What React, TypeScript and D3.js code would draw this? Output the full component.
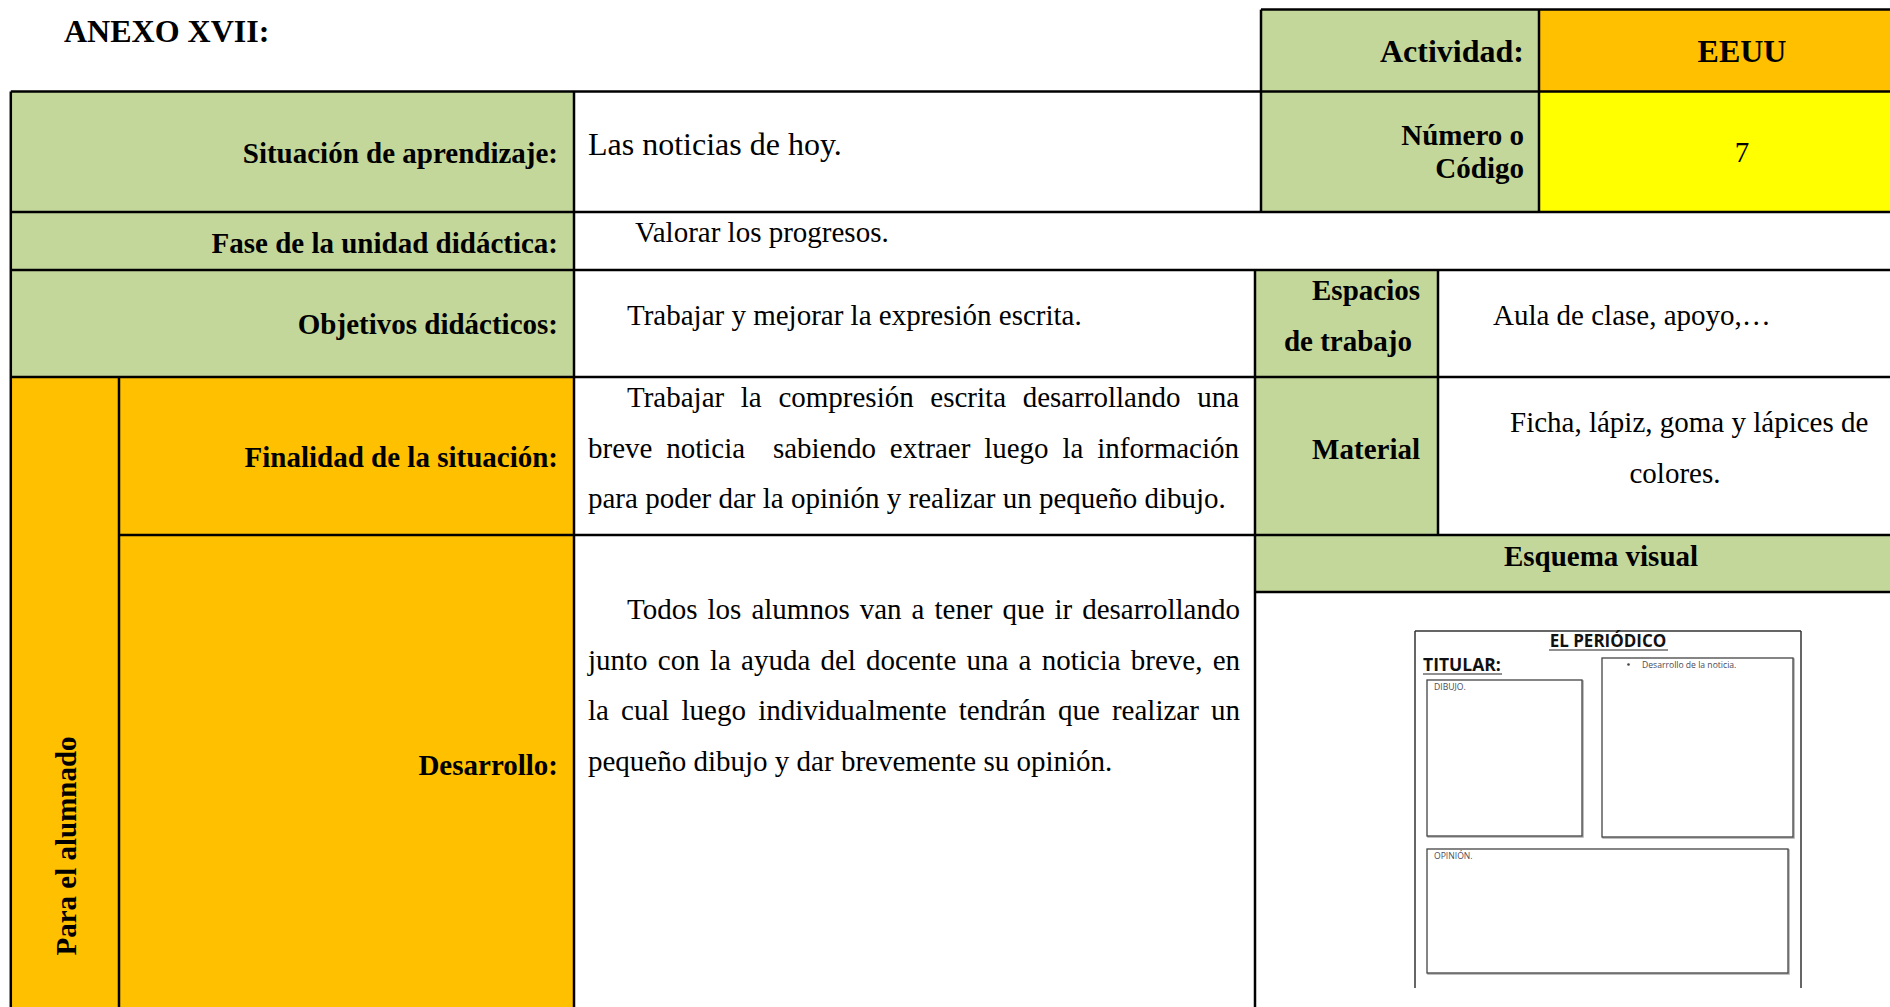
import React from "react";
import * as d3 from "d3";

const W = 1890;
const H = 1007;

// ---- data ----
const title = "ANEXO XVII:";
const headerLabels = ["Actividad:", "Número o", "Código"];
const headerValues = ["EEUU", "7"];
const rowLabels = [
  "Situación de aprendizaje:",
  "Fase de la unidad didáctica:",
  "Objetivos didácticos:",
  "Finalidad de la situación:",
  "Desarrollo:",
];
const rowValues = [
  "Las noticias de hoy.",
  "Valorar los progresos.",
  "Trabajar y mejorar la expresión escrita.",
];
const sideLabel = "Para el alumnado";
const espaciosLabel = ["Espacios", "de trabajo"];
const espaciosValue = "Aula de clase, apoyo,…";
const materialLabel = "Material";
const materialValue = ["Ficha, lápiz, goma y lápices de", "colores."];
const esquemaLabel = "Esquema visual";
const finalidadLines = [
  "Trabajar la compresión escrita desarrollando una",
  "breve noticia  sabiendo extraer luego la información",
  "para poder dar la opinión y realizar un pequeño dibujo.",
];
const desarrolloLines = [
  "Todos los alumnos van a tener que ir desarrollando",
  "junto con la ayuda del docente una a noticia breve, en",
  "la cual luego individualmente tendrán que realizar un",
  "pequeño dibujo y dar brevemente su opinión.",
];
const sheetTexts = ["EL PERIÓDICO", "TITULAR:", "DIBUJO.", "Desarrollo de la noticia.", "OPINIÓN."];

// ---- style ----
const GREEN = "#C4D79B";
const ORANGE = "#FFC000";
const YELLOW = "#FFFF00";
const SERIF = "'Liberation Serif', 'Times New Roman', serif";
const SANS = "'Open Sans', 'Liberation Sans', sans-serif";
const FS = 29;

let ctx: CanvasRenderingContext2D | null = null;
function measure(t: string, size: number, bold = false) {
  if (!ctx) ctx = document.createElement("canvas").getContext("2d");
  if (!ctx) return t.length * size * 0.45;
  ctx.font = `${bold ? "bold " : ""}${size}px 'Liberation Serif'`;
  return ctx.measureText(t).width;
}

function JLine({ text, x0, x1, y, justify }: { text: string; x0: number; x1: number; y: number; justify: boolean }) {
  if (!justify) {
    return (
      <text x={x0} y={y} fontFamily={SERIF} fontSize={FS} fill="#000">
        {text}
      </text>
    );
  }
  const tokens = text.split(" ");
  const sw = measure(" ", FS);
  const widths = tokens.map((t) => measure(t, FS));
  const natural = d3.sum(widths) + sw * (tokens.length - 1);
  const extra = (x1 - x0 - natural) / (tokens.length - 1);
  let x = x0;
  const items: { t: string; x: number }[] = [];
  tokens.forEach((t, i) => {
    items.push({ t, x });
    x += widths[i] + sw + extra;
  });
  return (
    <g>
      {items.filter((d) => d.t).map((d, i) => (
        <text key={i} x={d.x} y={y} fontFamily={SERIF} fontSize={FS} fill="#000">
          {d.t}
        </text>
      ))}
    </g>
  );
}

export default function App() {
  // grid coordinates
  const xL = 10.8, xC1 = 119, xLab = 574, xMid = 1255, xHead = 1261, xHeadDiv = 1539, xEsp = 1438, xR = W + 5;
  const yT = 9.6, y1 = 91.6, y2 = 212, y3 = 270, y4 = 377, y5 = 535, y6 = 592, yB = H + 5;
  const labEnd = 558;

  const fills = [
    { x: xHead, y: yT, w: xHeadDiv - xHead, h: y1 - yT, c: GREEN },
    { x: xHeadDiv, y: yT, w: xR - xHeadDiv, h: y1 - yT, c: ORANGE },
    { x: xHead, y: y1, w: xHeadDiv - xHead, h: y2 - y1, c: GREEN },
    { x: xHeadDiv, y: y1, w: xR - xHeadDiv, h: y2 - y1, c: YELLOW },
    { x: xL, y: y1, w: xLab - xL, h: y4 - y1, c: GREEN },
    { x: xMid, y: y3, w: xEsp - xMid, h: y5 - y3, c: GREEN },
    { x: xMid, y: y5, w: xR - xMid, h: y6 - y5, c: GREEN },
    { x: xL, y: y4, w: xLab - xL, h: yB - y4, c: ORANGE },
  ];
  const hLines: [number, number, number][] = [
    [yT, xHead, xR],
    [y1, xL, xR],
    [y2, xL, xR],
    [y3, xL, xR],
    [y4, xL, xR],
    [y5, xC1, xR],
    [y6, xMid, xR],
  ];
  const vLines: [number, number, number][] = [
    [xL, y1, yB],
    [xC1, y4, yB],
    [xLab, y1, yB],
    [xHead, yT, y2],
    [xHeadDiv, yT, y2],
    [xMid, y3, yB],
    [xEsp, y3, y5],
  ];

  const bold = { fontFamily: SERIF, fontSize: FS, fontWeight: 700, fill: "#000" } as const;
  const reg = { fontFamily: SERIF, fontSize: FS, fill: "#000" } as const;

  // sheet
  const sL = 1415, sR = 1801, sT = 631, sB = 988;
  const boxes = [
    { x: 1427, y: 680, w: 155, h: 156 },
    { x: 1602, y: 658, w: 191, h: 179 },
    { x: 1427, y: 849, w: 361, h: 124 },
  ];
  const small = { fontFamily: SANS, fontSize: 8.6, fill: "#4a4a58" } as const;

  return (
    <svg width={W} height={H} style={{ position: "absolute", left: 0, top: 0, background: "#fff" }}>
      <rect x={0} y={0} width={W} height={H} fill="#fff" />
      {fills.map((f, i) => (
        <rect key={i} x={f.x} y={f.y} width={f.w} height={f.h} fill={f.c} />
      ))}
      {hLines.map(([y, a, b], i) => (
        <line key={"h" + i} x1={a} x2={b} y1={y} y2={y} stroke="#000" strokeWidth={2.5} />
      ))}
      {vLines.map(([x, a, b], i) => (
        <line key={"v" + i} x1={x} x2={x} y1={a} y2={b} stroke="#000" strokeWidth={2.5} />
      ))}

      <text x={64} y={42} {...bold} fontSize={32}>{title}</text>

      {/* header */}
      <text x={1524} y={62} {...bold} fontSize={32} textAnchor="end">{headerLabels[0]}</text>
      <text x={1742} y={62} {...bold} fontSize={32} textAnchor="middle">{headerValues[0]}</text>
      <text x={1524} y={145} {...bold} textAnchor="end">{headerLabels[1]}</text>
      <text x={1524} y={178} {...bold} textAnchor="end">{headerLabels[2]}</text>
      <text x={1742} y={162} {...reg} textAnchor="middle">{headerValues[1]}</text>

      {/* row labels */}
      <text x={labEnd} y={163} {...bold} textAnchor="end">{rowLabels[0]}</text>
      <text x={labEnd} y={253} {...bold} textAnchor="end">{rowLabels[1]}</text>
      <text x={labEnd} y={334} {...bold} textAnchor="end">{rowLabels[2]}</text>
      <text x={labEnd} y={467} {...bold} textAnchor="end">{rowLabels[3]}</text>
      <text x={labEnd} y={775} {...bold} textAnchor="end">{rowLabels[4]}</text>

      <text x={588} y={155} {...reg} fontSize={32}>{rowValues[0]}</text>
      <text x={635} y={242} {...reg}>{rowValues[1]}</text>
      <text x={627} y={325} {...reg}>{rowValues[2]}</text>

      <text transform="translate(76,846) rotate(-90)" {...bold} textAnchor="middle">{sideLabel}</text>

      <text x={1420} y={300} {...bold} textAnchor="end">{espaciosLabel[0]}</text>
      <text x={1412} y={351} {...bold} textAnchor="end">{espaciosLabel[1]}</text>
      <text x={1493} y={325} {...reg}>{espaciosValue}</text>

      <text x={1420} y={459} {...bold} textAnchor="end">{materialLabel}</text>
      <text x={1510} y={432} {...reg}>{materialValue[0]}</text>
      <text x={1675} y={483} {...reg} textAnchor="middle">{materialValue[1]}</text>

      <text x={1601} y={566} {...bold} textAnchor="middle">{esquemaLabel}</text>

      {finalidadLines.map((t, i) => (
        <JLine key={"f" + i} text={t} x0={i === 0 ? 627 : 588} x1={1239} y={407 + i * 50.6} justify={i < finalidadLines.length - 1} />
      ))}
      {desarrolloLines.map((t, i) => (
        <JLine key={"d" + i} text={t} x0={i === 0 ? 627 : 588} x1={1240} y={619 + i * 50.6} justify={i < desarrolloLines.length - 1} />
      ))}

      {/* visual scheme sheet */}
      <g>
        <line x1={sL} x2={sR} y1={sT} y2={sT} stroke="#333" strokeWidth={1.5} />
        <line x1={sL} x2={sL} y1={sT} y2={sB} stroke="#333" strokeWidth={1.5} />
        <line x1={sR} x2={sR} y1={sT} y2={sB} stroke="#333" strokeWidth={1.5} />
        {boxes.map((b, i) => (
          <g key={i}>
            <rect x={b.x + 1} y={b.y + 1} width={b.w} height={b.h} fill="none" stroke="#aaa" strokeWidth={1.5} />
            <rect x={b.x} y={b.y} width={b.w} height={b.h} fill="#fff" stroke="#444" strokeWidth={1.3} />
          </g>
        ))}
        <text x={1608} y={647} fontFamily={SANS} fontWeight={700} fontSize={17} textAnchor="middle" fill="#111">{sheetTexts[0]}</text>
        <line x1={1549} x2={1668} y1={650} y2={650} stroke="#222" strokeWidth={1.2} />
        <text x={1423} y={671} fontFamily={SANS} fontWeight={700} fontSize={17.5} fill="#111">{sheetTexts[1]}</text>
        <line x1={1423} x2={1502} y1={674} y2={674} stroke="#222" strokeWidth={1.2} />
        <text x={1434} y={690} {...small}>{sheetTexts[2]}</text>
        <circle cx={1628.5} cy={664.5} r={1.3} fill="#444" />
        <text x={1642} y={667.5} {...small}>{sheetTexts[3]}</text>
        <text x={1434} y={859} {...small}>{sheetTexts[4]}</text>
      </g>
    </svg>
  );
}
